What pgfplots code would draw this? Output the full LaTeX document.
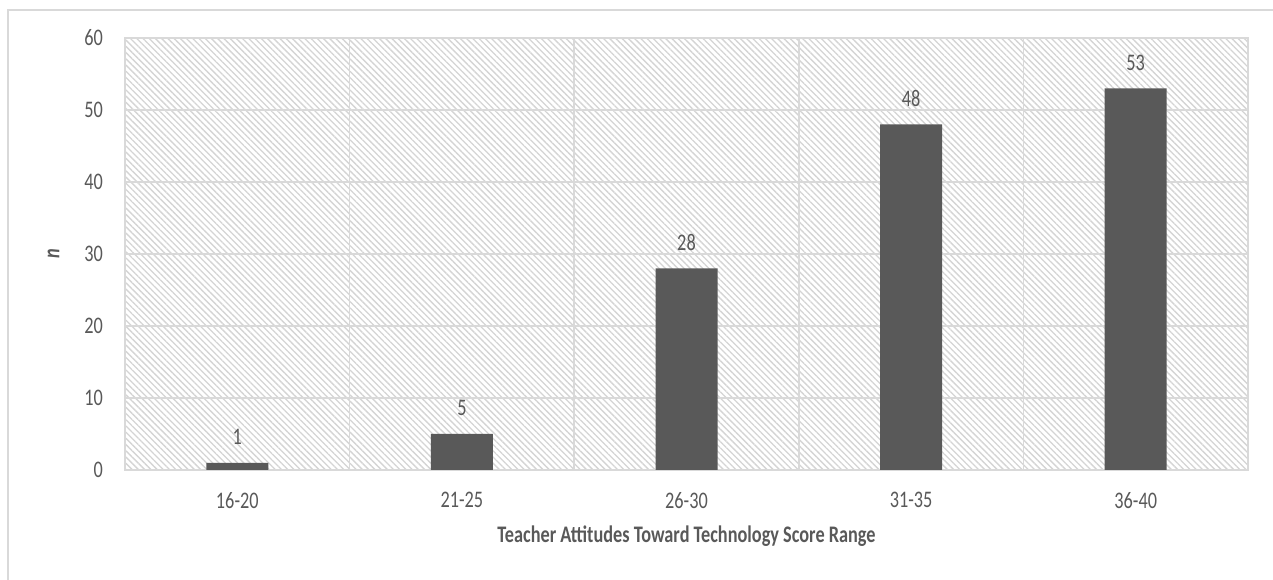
\documentclass[border=0pt]{standalone}
\usepackage{pgfplots}
\pgfplotsset{compat=1.18}
\usepackage{fontspec}
\setmainfont{Carlito}
\usetikzlibrary{patterns.meta}
\definecolor{barc}{HTML}{595959}
\definecolor{txt}{HTML}{595959}
\definecolor{gridc}{HTML}{D9D9D9}
\definecolor{hatch}{HTML}{D4D4D4}
\newcommand{\vs}[1]{\scalebox{1}[1.3]{#1}}
\begin{document}
\begin{tikzpicture}
\useasboundingbox (-93.75pt,-82.5pt) rectangle (861pt,352.5pt);
\draw[gridc, line width=0.8pt] (-87.75pt,-90pt) -- (-87.75pt,345pt) -- (870pt,345pt);
\begin{axis}[
  at={(0,0)}, anchor=south west,
  scale only axis,
  width=842.25pt, height=324pt,
  xmin=-0.5, xmax=4.5,
  ymin=0, ymax=60,
  ytick={0,10,...,60},
  xtick={0,1,2,3,4},
  xticklabels={\vs{16-20},\vs{21-25},\vs{26-30},\vs{31-35},\vs{36-40}},
  minor xtick={0.5,1.5,2.5,3.5},
  xminorgrids=true,
  ymajorgrids=true,
  major tick length=0pt, minor tick length=0pt,
  grid style={gridc, line width=1.1pt},
  minor grid style={gridc, line width=1.1pt},
  axis line style={gridc, line width=1.1pt},
  axis background/.style={pattern={Lines[angle=-45,distance=3.3pt,line width=1.0pt]}, pattern color=hatch},
  tick label style={font=\fontsize{13.7}{15}\selectfont, text=txt},
  xticklabel style={yshift=-13pt},
  yticklabel={\vs{\pgfmathprintnumber{\tick}}},
  yticklabel style={xshift=-13pt},
  xlabel={\vs{\textbf{Teacher Attitudes Toward Technology Score Range}}},
  xlabel style={font=\fontsize{13.7}{15}\selectfont, text=txt, yshift=-6pt},
  ylabel={\vs{\textbf{\textit{n}}}},
  ylabel style={font=\fontsize{13.7}{15}\selectfont, text=txt, yshift=12pt},
  ybar, bar width=46.5pt,
  nodes near coords={\vs{\pgfmathprintnumber{\pgfplotspointmeta}}},
  every node near coord/.append style={font=\fontsize{13.7}{15}\selectfont, text=txt, anchor=south, yshift=10pt},
  /pgf/number format/assume math mode=true,
  clip=false,
]
\addplot[fill=barc, draw=none] coordinates {(0,1) (1,5) (2,28) (3,48) (4,53)};
\end{axis}
\end{tikzpicture}
\end{document}
